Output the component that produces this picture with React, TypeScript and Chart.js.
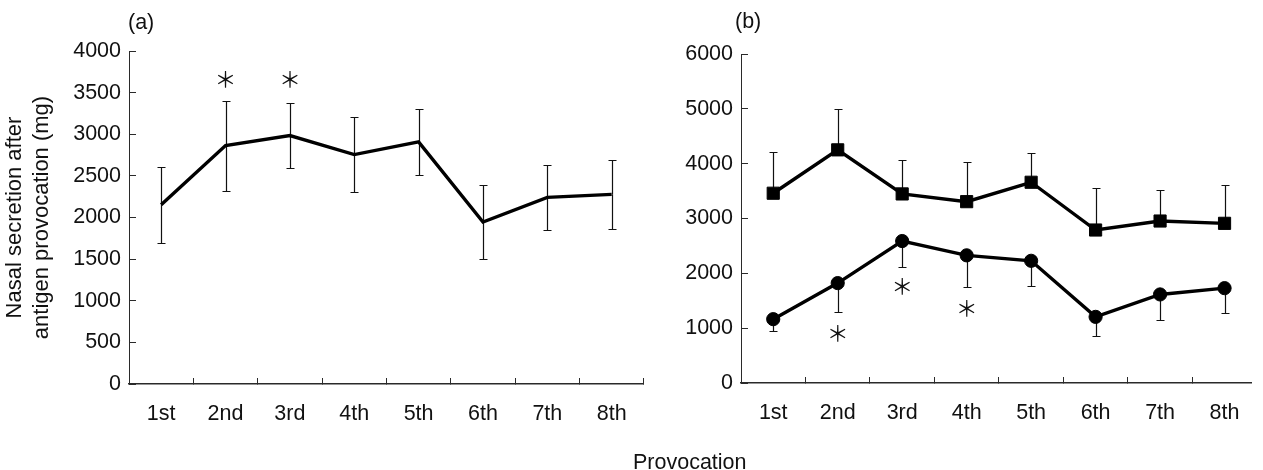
import React, { useEffect, useRef } from 'react';
import { Chart, registerables } from 'chart.js';

Chart.register(...registerables);

// ---------- data ----------
const categories = ['1st', '2nd', '3rd', '4th', '5th', '6th', '7th', '8th'];

// Panel (a): mean ± SE
const meanA = [2154, 2864, 2984, 2756, 2908, 1946, 2242, 2278];
const errA = [455, 540, 395, 453, 400, 448, 390, 412];
const starCatA = [2, 3];
const starValA = [3660, 3660];

// Panel (b): squares (upper series, error up) and circles (lower series, error down)
const meanSquare = [3461, 4252, 3448, 3307, 3661, 2790, 2954, 2912];
const errSquare = [760, 749, 621, 720, 542, 762, 573, 706];
const meanCircle = [1164, 1822, 2589, 2328, 2229, 1206, 1615, 1730];
const errCircle = [214, 525, 481, 585, 457, 353, 464, 456];
const starCatB = [2, 3, 4];
const starValB = [908, 1754, 1365];

const yTitleA = ['Nasal secretion after', 'antigen provocation (mg)'];
const xTitle = 'Provocation';

// ---------- styling ----------
const FONT = "'Liberation Sans', Arial, sans-serif";
const AXIS = '#2a2a2a';
const TICK_SIZE = 21.5;
const STAR_FONT = "22px 'Noto Sans CJK JP'";
const STAR_GLYPH = '\uFF0A';

const errorBarPlugin = {
  id: 'errorBars',
  beforeDatasetsDraw(chart: any, _args: any, opts: any) {
    const { ctx, scales } = chart;
    const xs = scales.x;
    const ys = scales.y;
    ctx.save();
    ctx.strokeStyle = '#111';
    ctx.lineWidth = 1.2;
    const cap = opts.cap ?? 4;
    (opts.sets || []).forEach((set: any) => {
      set.mean.forEach((m: number, i: number) => {
        const px = Math.round(xs.getPixelForValue(i + 1)) + 0.5;
        const e = set.err[i];
        const ends: number[] = [];
        if (set.dir === 'both' || set.dir === 'up') ends.push(m + e);
        if (set.dir === 'both' || set.dir === 'down') ends.push(m - e);
        const pm = ys.getPixelForValue(m);
        ends.forEach((v) => {
          const pv = Math.round(ys.getPixelForValue(v)) + 0.5;
          ctx.beginPath();
          ctx.moveTo(px, pm);
          ctx.lineTo(px, pv);
          ctx.moveTo(px - cap, pv);
          ctx.lineTo(px + cap, pv);
          ctx.stroke();
        });
      });
    });
    ctx.restore();
  },
};

const starPlugin = {
  id: 'stars',
  afterDatasetsDraw(chart: any, _args: any, opts: any) {
    const { ctx, scales } = chart;
    ctx.save();
    ctx.fillStyle = '#111';
    ctx.font = opts.font;
    ctx.textAlign = 'center';
    ctx.textBaseline = 'alphabetic';
    const m = ctx.measureText(STAR_GLYPH);
    const dy = (m.actualBoundingBoxAscent - m.actualBoundingBoxDescent) / 2;
    (opts.cats || []).forEach((c: number, i: number) => {
      const px = scales.x.getPixelForValue(c);
      const py = scales.y.getPixelForValue(opts.vals[i]);
      ctx.fillText(STAR_GLYPH, px, py + dy);
    });
    ctx.restore();
  },
};

function makeXScale(min: number, max: number, height: number) {
  return {
    type: 'linear' as const,
    min,
    max,
    afterBuildTicks: (s: any) => {
      s.ticks = categories.map((_, i) => ({ value: i + 1 }));
    },
    afterFit: (s: any) => {
      s.height = height;
    },
    ticks: {
      callback: (v: any) => categories[Number(v) - 1] ?? '',
      color: '#111',
      font: { family: FONT, size: TICK_SIZE },
      padding: 23,
      maxRotation: 0,
      autoSkip: false,
    },
    grid: {
      offset: true,
      drawOnChartArea: false,
      drawTicks: true,
      tickLength: -6,
      color: AXIS,
      lineWidth: 1,
    },
    border: { display: true, color: AXIS, width: 1.5 },
  };
}

function makeYScale(max: number, step: number, width: number, withTitle: boolean) {
  return {
    type: 'linear' as const,
    min: 0,
    max,
    afterFit: (s: any) => {
      s.width = width;
    },
    ticks: {
      stepSize: step,
      callback: (v: any) => String(v),
      color: '#111',
      font: { family: FONT, size: TICK_SIZE },
      padding: 15,
    },
    grid: {
      drawOnChartArea: false,
      drawTicks: true,
      tickLength: -7,
      color: AXIS,
      lineWidth: 1,
    },
    border: { display: true, color: AXIS, width: 1 },
    title: {
      display: withTitle,
      text: yTitleA,
      color: '#111',
      font: { family: FONT, size: 22, lineHeight: 27 / 22 },
      padding: { top: 1, bottom: 0 },
    },
  };
}

function PanelA() {
  const ref = useRef<HTMLCanvasElement | null>(null);
  useEffect(() => {
    if (!ref.current) return;
    const chart = new Chart(ref.current, {
      type: 'line',
      data: {
        datasets: [
          {
            data: meanA.map((v, i) => ({ x: i + 1, y: v })),
            borderColor: '#000',
            borderWidth: 3.4,
            pointRadius: 0,
            tension: 0,
            fill: false,
          },
        ],
      },
      options: {
        responsive: false,
        animation: false,
        events: [],
        layout: { padding: { top: 51, right: 6, left: 0, bottom: 0 } },
        scales: {
          x: makeXScale(0.5, 8.5, 86),
          y: makeYScale(4000, 500, 129, true),
        },
        plugins: {
          legend: { display: false },
          tooltip: { enabled: false },
          errorBars: { cap: 4, sets: [{ mean: meanA, err: errA, dir: 'both' }] },
          stars: { cats: starCatA, vals: starValA, font: STAR_FONT },
        } as any,
      },
      plugins: [errorBarPlugin, starPlugin],
    } as any);
    return () => chart.destroy();
  }, []);
  return <canvas ref={ref} width={650} height={470} style={{ position: 'absolute', left: 0, top: 0, width: 650, height: 470 }} />;
}

function PanelB() {
  const ref = useRef<HTMLCanvasElement | null>(null);
  useEffect(() => {
    if (!ref.current) return;
    const chart = new Chart(ref.current, {
      type: 'line',
      data: {
        datasets: [
          {
            data: meanSquare.map((v, i) => ({ x: i + 1, y: v })),
            borderColor: '#000',
            borderWidth: 3.4,
            pointStyle: 'rect',
            pointRadius: 8.6,
            pointBackgroundColor: '#000',
            pointBorderColor: '#000',
            pointBorderWidth: 1,
            tension: 0,
            fill: false,
          },
          {
            data: meanCircle.map((v, i) => ({ x: i + 1, y: v })),
            borderColor: '#000',
            borderWidth: 3.4,
            pointStyle: 'circle',
            pointRadius: 6.6,
            pointBackgroundColor: '#000',
            pointBorderColor: '#000',
            pointBorderWidth: 1,
            tension: 0,
            fill: false,
          },
        ],
      },
      options: {
        responsive: false,
        animation: false,
        events: [],
        layout: { padding: { top: 54, right: 1, left: 0, bottom: 0 } },
        scales: {
          x: makeXScale(0.5, 8.42, 87),
          y: makeYScale(6000, 1000, 91, false),
        },
        plugins: {
          legend: { display: false },
          tooltip: { enabled: false },
          errorBars: {
            cap: 4,
            sets: [
              { mean: meanSquare, err: errSquare, dir: 'up' },
              { mean: meanCircle, err: errCircle, dir: 'down' },
            ],
          },
          stars: { cats: starCatB, vals: starValB, font: STAR_FONT },
        } as any,
      },
      plugins: [errorBarPlugin, starPlugin],
    } as any);
    return () => chart.destroy();
  }, []);
  return <canvas ref={ref} width={613} height={470} style={{ position: 'absolute', left: 650, top: 0, width: 613, height: 470 }} />;
}

const textStyle: React.CSSProperties = {
  position: 'absolute',
  fontFamily: FONT,
  fontSize: 21.5,
  lineHeight: '24px',
  color: '#111',
  whiteSpace: 'nowrap',
};

export default function App() {
  return (
    <div style={{ position: 'fixed', left: 0, top: 0, width: 1263, height: 470, background: '#fff', overflow: 'hidden' }}>
      <PanelA />
      <PanelB />
      <div style={{ ...textStyle, left: 128, top: 10 }}>(a)</div>
      <div style={{ ...textStyle, left: 735, top: 9 }}>(b)</div>
      <div style={{ ...textStyle, left: 633, top: 450 }}>{xTitle}</div>
    </div>
  );
}
